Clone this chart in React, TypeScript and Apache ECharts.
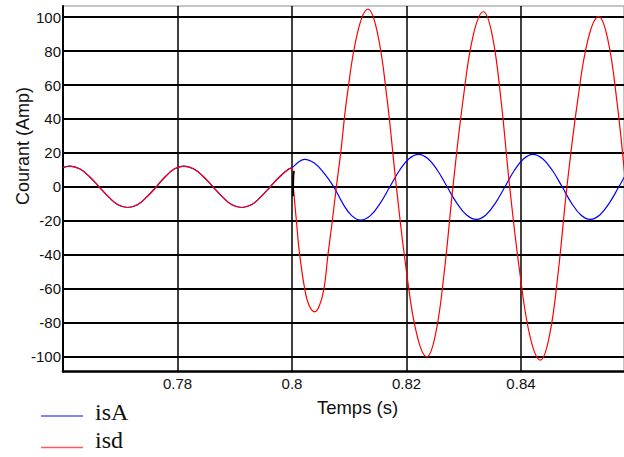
import React, { useEffect, useRef } from "react";
import * as echarts from "echarts";

// Shared waveform before the fault at t = 0.8 s (both currents coincide)
const timePre = [
  0.76, 0.7612, 0.7629, 0.7646, 0.7663, 0.768, 0.7696, 0.7713, 0.773, 0.7746,
  0.7763, 0.7779, 0.7795, 0.7811, 0.7828, 0.7845, 0.7862, 0.7879, 0.7895,
  0.7912, 0.7929, 0.7945, 0.7962, 0.7979, 0.7995, 0.8,
];
const currentPre = [
  11.3, 12.2, 10.6, 6.1, 0, -6.1, -10.6, -12.2, -10.6, -6.1, 0, 6.1, 10.6,
  12.2, 10.6, 6.1, 0, -6.1, -10.6, -12.2, -10.6, -6.1, 0, 6.1, 10.6, 11.2,
];

// isA after the fault
const isATime = [
  0.8011, 0.8022, 0.8039, 0.8056, 0.8073, 0.80887, 0.81043, 0.812, 0.8137,
  0.8154, 0.8171, 0.81877, 0.82043, 0.8221, 0.82377, 0.82543, 0.8271, 0.8288,
  0.8305, 0.8322, 0.83387, 0.83553, 0.8372, 0.83883, 0.84047, 0.8421, 0.8438,
  0.8455, 0.8472, 0.84883, 0.85047, 0.8521, 0.85377, 0.85543, 0.8571, 0.85877,
  0.86043,
];
const isAValue = [
  14.5, 16.2, 14.0, 8.1, 0, -9.8, -17.0, -19.6, -17.0, -9.8, 0, 9.6, 16.5,
  19.1, 16.5, 9.6, 0, -9.6, -16.6, -19.2, -16.6, -9.6, 0, 9.6, 16.5, 19.1,
  16.5, 9.6, 0, -9.6, -16.6, -19.2, -16.6, -9.6, 0, 9.6, 16.5,
];

// isd after the fault
const isdTime = [
  0.80024, 0.80077, 0.80134, 0.80222, 0.803, 0.80397, 0.8048, 0.80559, 0.80629,
  0.80705, 0.80775, 0.80851, 0.80959, 0.81144, 0.81328, 0.81493, 0.81659,
  0.81824, 0.82001, 0.82179, 0.82356, 0.82508, 0.8266, 0.82812, 0.8299,
  0.83167, 0.83345, 0.83498, 0.8365, 0.83803, 0.83982, 0.8416, 0.84339,
  0.84494, 0.84648, 0.84803, 0.84988, 0.85172, 0.85357, 0.85517, 0.85677,
  0.85837, 0.86,
];
const isdValue = [
  0, -20, -40, -60, -70, -73.7, -70, -60, -40, -20, 0, 20, 52.4, 90.7, 104.7,
  90.7, 52.4, 0, -50.2, -86.9, -100.3, -86.9, -50.2, 0, 51.6, 89.4, 103.2,
  89.4, 51.6, 0, -51.1, -88.5, -102.2, -88.5, -51.1, 0, 50.2, 86.9, 100.3,
  86.9, 50.2, 0, -46,
];

// Short switching transient right at the fault instant
const spikeTime = [0.80016, 0.8002, 0.80028, 0.80045];
const spikeValue = [-5.5, 2, 8.4, 9.2];

const xTicks = [0.78, 0.8, 0.82, 0.84];
const yTicks = [-100, -80, -60, -40, -20, 0, 20, 40, 60, 80, 100];

const zip = (t: number[], v: number[]) => t.map((x, i) => [x, v[i]]);

const SANS = "Liberation Sans, Arial, sans-serif";
const SERIF = "Liberation Serif, Times New Roman, serif";

export default function App() {
  const ref = useRef<HTMLDivElement>(null);

  useEffect(() => {
    if (!ref.current) return;
    const chart = echarts.init(ref.current, undefined, { renderer: "svg" });

    const preData = zip(timePre, currentPre);
    const isAData = preData.concat(zip(isATime, isAValue));
    const isdData = preData.concat(zip(isdTime, isdValue));

    chart.setOption({
      animation: false,
      backgroundColor: "#ffffff",
      grid: {
        left: 63,
        top: 6,
        width: 561,
        height: 365.7,
        show: true,
        borderColor: "#8c8c8c",
        borderWidth: 1,
      },
      xAxis: {
        type: "value",
        min: 0.76,
        max: 0.858,
        axisLine: { show: true, onZero: false, lineStyle: { color: "#000", width: 2.5 } },
        axisTick: { show: false, customValues: xTicks },
        axisLabel: {
          customValues: xTicks,
          color: "#111",
          fontSize: 15,
          fontFamily: SANS,
          margin: 4,
        },
        splitLine: { show: true, lineStyle: { color: "#000", width: 1.5 } },
      },
      yAxis: {
        type: "value",
        min: -109,
        max: 106.6,
        axisLine: { show: true, onZero: false, lineStyle: { color: "#000", width: 2 } },
        axisTick: { show: false, customValues: yTicks },
        axisLabel: {
          customValues: yTicks,
          color: "#111",
          fontSize: 15,
          fontFamily: SANS,
          margin: 2,
        },
        splitLine: { show: true, lineStyle: { color: "#000", width: 2 } },
      },
      series: [
        {
          name: "isA",
          type: "line",
          data: isAData,
          symbol: "none",
          smooth: 0.4,
          lineStyle: { color: "#0000ff", width: 1.2 },
          itemStyle: { color: "#0000ff" },
        },
        {
          name: "isd",
          type: "line",
          data: isdData,
          symbol: "none",
          smooth: 0.4,
          lineStyle: { color: "#ff0000", width: 1.2 },
          itemStyle: { color: "#ff0000" },
        },
        {
          name: "transitoire",
          type: "line",
          data: zip(spikeTime, spikeValue),
          symbol: "none",
          smooth: 0.3,
          lineStyle: { color: "#000", width: 2 },
        },
      ],
      graphic: [
        {
          type: "text",
          x: 357.5,
          y: 407,
          style: {
            text: "Temps (s)",
            fontSize: 18.5,
            fontFamily: SANS,
            fill: "#111",
            align: "center",
            verticalAlign: "middle",
          },
        },
        {
          type: "text",
          x: 23,
          y: 146,
          rotation: Math.PI / 2,
          style: {
            text: "Courant (Amp)",
            fontSize: 18,
            fontFamily: SANS,
            fill: "#111",
            align: "center",
            verticalAlign: "middle",
          },
        },
        {
          type: "line",
          shape: { x1: 41, y1: 416, x2: 83, y2: 416 },
          style: { stroke: "#5b5bff", lineWidth: 1.5 },
        },
        {
          type: "text",
          x: 95,
          y: 411.9,
          style: {
            text: "isA",
            fontSize: 24,
            fontFamily: SERIF,
            fill: "#111",
            align: "left",
            verticalAlign: "middle",
          },
        },
        {
          type: "line",
          shape: { x1: 41, y1: 447.5, x2: 83, y2: 447.5 },
          style: { stroke: "#ff5b5b", lineWidth: 1.5 },
        },
        {
          type: "text",
          x: 95,
          y: 440.2,
          style: {
            text: "isd",
            fontSize: 24,
            fontFamily: SERIF,
            fill: "#111",
            align: "left",
            verticalAlign: "middle",
          },
        },
      ],
    });

    return () => chart.dispose();
  }, []);

  return (
    <div
      ref={ref}
      style={{ position: "fixed", left: 0, top: 0, width: 624, height: 457 }}
    />
  );
}
